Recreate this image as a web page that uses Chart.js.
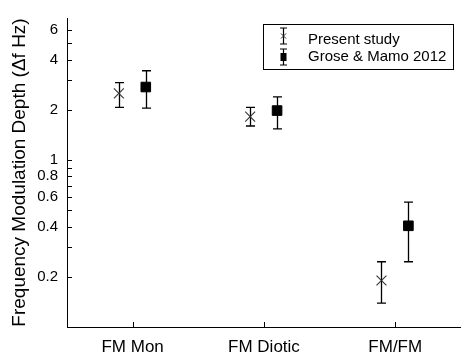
<!DOCTYPE html>
<html><head><meta charset="utf-8">
<script src="https://cdn.jsdelivr.net/npm/chart.js@4.4.0/dist/chart.umd.min.js"></script>
<style>html,body{margin:0;padding:0;background:#fff;}#wrap{position:relative;width:469px;height:357px;}</style>
</head><body><div id="wrap"><canvas id="c" width="469" height="357"></canvas></div>
<script>
const categories = ['FM Mon', 'FM Diotic', 'FM/FM'];
const seriesNames = ['Present study', 'Grose & Mamo 2012'];
const presentMean = [2.51, 1.82, 0.19];
const presentLow = [2.07, 1.60, 0.139];
const presentHigh = [2.91, 2.07, 0.246];
const groseMean = [2.74, 1.98, 0.404];
const groseLow = [2.05, 1.54, 0.246];
const groseHigh = [3.43, 2.39, 0.56];
const yTickValues = [0.2, 0.3, 0.4, 0.5, 0.6, 0.7, 0.8, 0.9, 1, 2, 3, 4, 5, 6];
const yTickLabels = ['0.2', '', '0.4', '', '0.6', '', '0.8', '', '1', '2', '', '4', '', '6'];
const yTitle = 'Frequency Modulation Depth (\u0394f Hz)';

const FONT = "'Liberation Sans', Arial, Helvetica, sans-serif";
const xOffsets = [-0.105, 0.1];
const errors = [[presentLow, presentHigh], [groseLow, groseHigh]];

const errorBarPlugin = {
  id: 'errorBars',
  beforeDatasetsDraw(chart) {
    const ctx = chart.ctx, xs = chart.scales.x, ys = chart.scales.y;
    ctx.save();
    ctx.strokeStyle = '#000';
    ctx.lineWidth = 1.3;
    chart.data.datasets.forEach((ds, di) => {
      const [lo, hi] = errors[di];
      ds.data.forEach((p, i) => {
        const x = Math.round(xs.getPixelForValue(p.x)) + 0.5;
        const y1 = ys.getPixelForValue(lo[i]);
        const y2 = ys.getPixelForValue(hi[i]);
        const cw = 4.5;
        ctx.beginPath();
        ctx.moveTo(x, y1); ctx.lineTo(x, y2);
        ctx.moveTo(x - cw, y1); ctx.lineTo(x + cw, y1);
        ctx.moveTo(x - cw, y2); ctx.lineTo(x + cw, y2);
        ctx.stroke();
      });
    });
    ctx.restore();
  }
};

const inwardTicksPlugin = {
  id: 'inwardTicks',
  afterDraw(chart) {
    const ctx = chart.ctx, xs = chart.scales.x, ys = chart.scales.y, a = chart.chartArea;
    ctx.save();
    ctx.strokeStyle = '#000';
    ctx.lineWidth = 1;
    ctx.beginPath();
    xs.ticks.forEach(t => {
      const x = Math.round(xs.getPixelForValue(t.value)) + 0.5;
      ctx.moveTo(x, a.bottom); ctx.lineTo(x, a.bottom - 5);
    });
    ys.ticks.forEach(t => {
      const y = Math.round(ys.getPixelForValue(t.value)) + 0.5;
      ctx.moveTo(a.left, y); ctx.lineTo(a.left + 5, y);
    });
    ctx.stroke();
    ctx.restore();
  }
};

const legendPlugin = {
  id: 'boxLegend',
  afterDraw(chart) {
    const ctx = chart.ctx;
    ctx.save();
    ctx.strokeStyle = '#000';
    ctx.lineWidth = 1;
    ctx.strokeRect(263.5, 24.5, 190, 45);
    const sx = 283.5;
    ctx.lineWidth = 1.2;
    // entry 1 symbol
    ctx.beginPath();
    ctx.moveTo(sx, 28); ctx.lineTo(sx, 44);
    ctx.moveTo(sx - 3.5, 28); ctx.lineTo(sx + 3.5, 28);
    ctx.moveTo(sx - 3.5, 44); ctx.lineTo(sx + 3.5, 44);
    ctx.stroke();
    ctx.strokeStyle = '#333';
    ctx.lineWidth = 1;
    ctx.beginPath();
    ctx.moveTo(sx - 2.5, 33.5); ctx.lineTo(sx + 2.5, 38.5);
    ctx.moveTo(sx - 2.5, 38.5); ctx.lineTo(sx + 2.5, 33.5);
    ctx.stroke();
    // entry 2 symbol
    ctx.strokeStyle = '#000';
    ctx.lineWidth = 1.2;
    ctx.beginPath();
    ctx.moveTo(sx, 49); ctx.lineTo(sx, 65);
    ctx.moveTo(sx - 3.5, 49); ctx.lineTo(sx + 3.5, 49);
    ctx.moveTo(sx - 3.5, 65); ctx.lineTo(sx + 3.5, 65);
    ctx.stroke();
    ctx.fillStyle = '#000';
    ctx.fillRect(sx - 3, 53, 6, 8);
    ctx.font = '15px ' + FONT;
    ctx.textBaseline = 'alphabetic';
    ctx.textAlign = 'left';
    ctx.fillText(seriesNames[0], 308, 43.5);
    ctx.fillText(seriesNames[1], 308, 60.5);
    ctx.restore();
  }
};

new Chart(document.getElementById('c'), {
  type: 'scatter',
  data: {
    datasets: [
      {
        label: seriesNames[0],
        data: presentMean.map((v, i) => ({x: i + 1 + xOffsets[0], y: v})),
        pointStyle: 'crossRot',
        radius: 7,
        borderColor: '#333',
        backgroundColor: '#333',
        borderWidth: 1.1
      },
      {
        label: seriesNames[1],
        data: groseMean.map((v, i) => ({x: i + 1 + xOffsets[1], y: v})),
        pointStyle: 'rect',
        radius: 6.8,
        borderColor: '#000',
        backgroundColor: '#000',
        borderWidth: 1
      }
    ]
  },
  options: {
    responsive: false,
    animation: false,
    devicePixelRatio: 1,
    events: [],
    layout: {padding: {top: 12, right: 4, left: 0, bottom: 0}},
    plugins: {legend: {display: false}, tooltip: {enabled: false}},
    scales: {
      x: {
        type: 'linear',
        min: 0.5,
        max: 3.5,
        afterBuildTicks: s => { s.ticks = categories.map((c, i) => ({value: i + 1})); },
        afterFit: s => { s.height = 30; },
        grid: {display: false, drawTicks: false},
        border: {display: true, color: '#000', width: 1},
        ticks: {
          autoSkip: false,
          maxRotation: 0,
          padding: 10,
          color: '#000',
          font: {family: FONT, size: 17},
          callback: v => categories[Math.round(v) - 1]
        }
      },
      y: {
        type: 'logarithmic',
        min: 0.1,
        max: 7.1,
        afterBuildTicks: s => { s.ticks = yTickValues.map(v => ({value: v})); },
        afterFit: s => { s.width = 67; },
        grid: {display: false, drawTicks: false},
        border: {display: true, color: '#000', width: 1},
        ticks: {
          autoSkip: false,
          padding: 9,
          color: '#000',
          font: {family: FONT, size: 15},
          callback: v => { const i = yTickValues.findIndex(t => Math.abs(t - v) < 1e-9); return i >= 0 ? yTickLabels[i] : ''; }
        },
        title: {
          display: true,
          text: yTitle,
          color: '#000',
          font: {family: FONT, size: 19},
          padding: {top: 8.5, bottom: 0}
        }
      }
    }
  },
  plugins: [errorBarPlugin, inwardTicksPlugin, legendPlugin]
});
</script>
</body></html>
